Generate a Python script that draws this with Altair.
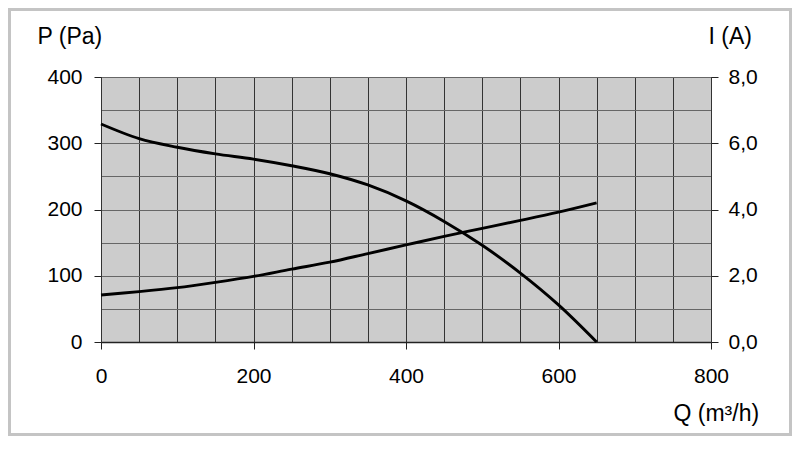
import altair as alt
import pandas as pd

# Data
q = [0, 50, 100, 150, 200, 250, 300, 350, 400, 450, 500, 550, 600, 650]
pressure = [329, 307, 294, 284, 276, 266, 254, 237, 213, 182, 146, 104, 56, 0]
current = [1.42, 1.52, 1.64, 1.80, 1.98, 2.20, 2.41, 2.67, 2.93, 3.19, 3.43, 3.67, 3.92, 4.20]

x_values = list(range(0, 801, 50))
p_values = list(range(0, 401, 50))
i_values = [0, 2, 4, 6, 8]

df = pd.DataFrame({"Q": q, "P": pressure, "I": current})
frame_df = pd.DataFrame({"k": [0]})

W, H = 610, 265
FONT = "Liberation Sans"
FS = 21
TFS = 23

x_scale = alt.Scale(domain=[0, 800], nice=False, zero=True)

x_axis = alt.Axis(
    values=x_values,
    labelExpr="datum.value % 200 === 0 ? datum.label : ''",
    labelOverlap=False,
    labelFlush=False,
    tickOpacity={"condition": {"test": "datum.value % 200 === 0", "value": 1}, "value": 0},
    tickSize=7,
    tickColor="#222222",
    labelPadding=16,
    grid=True,
    gridColor="#333333",
    gridWidth=1,
    domainColor="#222222",
    domainWidth=1.5,
    title="Q (m³/h)",
    titleAngle=0,
    titleAlign="left",
    titleBaseline="alphabetic",
    titleX=572,
    titleY=78,
)

p_axis = alt.Axis(
    values=p_values,
    labelExpr="datum.value % 100 === 0 ? datum.label : ''",
    labelOverlap=False,
    labelFlush=False,
    tickOpacity={"condition": {"test": "datum.value % 100 === 0", "value": 1}, "value": 0},
    tickSize=7,
    tickColor="#222222",
    labelPadding=12,
    grid=True,
    gridColor="#666666",
    gridWidth=1,
    domainColor="#333333",
    title="P (Pa)",
    titleAngle=0,
    titleAlign="left",
    titleBaseline="alphabetic",
    titleX=-64,
    titleY=-34,
)

i_axis = alt.Axis(
    orient="right",
    values=i_values,
    labelExpr="replace(format(datum.value, '.1f'), '.', ',')",
    labelOverlap=False,
    labelFlush=False,
    tickSize=7,
    tickColor="#222222",
    labelPadding=10,
    grid=False,
    domainColor="#333333",
    title="I (A)",
    titleAngle=0,
    titleAlign="left",
    titleBaseline="alphabetic",
    titleX=-3,
    titleY=-34,
)

frame = alt.Chart(frame_df).mark_rect(
    fillOpacity=0, stroke="#c4c4c4", strokeWidth=3
).encode(
    x=alt.value(-91.5), x2=alt.value(W + 79.5),
    y=alt.value(-67.5), y2=alt.value(H + 92.5),
)

p_line = alt.Chart(df).mark_line(
    color="black", strokeWidth=2.9, interpolate="catmull-rom"
).encode(
    x=alt.X("Q:Q", scale=x_scale, axis=x_axis),
    y=alt.Y("P:Q", scale=alt.Scale(domain=[0, 400], nice=False), axis=p_axis),
)

i_line = alt.Chart(df).mark_line(
    color="black", strokeWidth=2.9, interpolate="catmull-rom"
).encode(
    x=alt.X("Q:Q", scale=x_scale, axis=x_axis),
    y=alt.Y("I:Q", scale=alt.Scale(domain=[0, 8], nice=False), axis=i_axis),
)

chart = alt.layer(p_line, i_line, frame).resolve_scale(
    y="independent"
).properties(
    width=W,
    height=H,
    autosize=alt.AutoSizeParams(type="none"),
    padding={"left": 93, "top": 69, "right": 81, "bottom": 94},
    background="white",
).configure_view(
    fill="#cccccc", stroke="#333333", strokeWidth=1
).configure_axis(
    labelFont=FONT, labelFontSize=FS, labelColor="black",
    titleFont=FONT, titleFontSize=TFS, titleColor="black", titleFontWeight="normal",
)

chart.save("out.html", embed_options={"renderer": "svg", "actions": False})
